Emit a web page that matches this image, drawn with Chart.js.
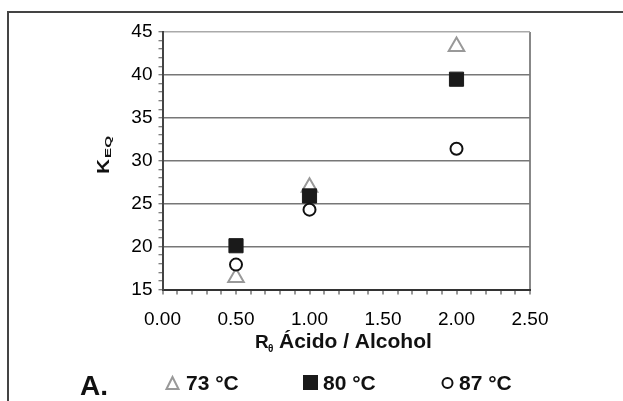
<!DOCTYPE html>
<html>
<head>
<meta charset="utf-8">
<script src="https://cdn.jsdelivr.net/npm/chart.js@4/dist/chart.umd.min.js"></script>
<style>
html, body { margin: 0; padding: 0; background: #fff; overflow: hidden; }
#c { display: block; }
</style>
</head>
<body>
<canvas id="c" width="623" height="401"></canvas>
<script>
// --- datos ---
const ratios = [0.5, 1.0, 2.0];
const keq73 = [16.4, 26.9, 43.3];
const keq80 = [20.1, 25.9, 39.5];
const keq87 = [17.9, 24.3, 31.4];
const seriesNames = ['73 °C', '80 °C', '87 °C'];
const xRange = [0, 2.5];
const yRange = [15, 45];

const FONT = '"Liberation Sans", Arial, sans-serif';
const isMult = (v, m) => Math.abs(v / m - Math.round(v / m)) < 1e-6;
const toPoints = ys => ratios.map((x, i) => ({ x: x, y: ys[i] }));

// --- marco, títulos de ejes, leyenda y "A." ---
const decorPlugin = {
    id: 'decor',
    beforeDraw(chart) {
        const ctx = chart.ctx;
        ctx.save();
        ctx.strokeStyle = '#444';
        ctx.lineWidth = 2;
        ctx.beginPath();
        ctx.moveTo(8, 401);
        ctx.lineTo(8, 12);
        ctx.lineTo(623, 12);
        ctx.stroke();
        ctx.restore();
    },
    afterDraw(chart) {
        const ctx = chart.ctx;
        ctx.save();
        ctx.fillStyle = '#111';
        ctx.textBaseline = 'alphabetic';
        ctx.textAlign = 'left';

        // K_EQ (vertical)
        ctx.save();
        ctx.translate(108.5, 174);
        ctx.rotate(-Math.PI / 2);
        ctx.save();
        ctx.scale(1.3, 1);
        ctx.font = 'bold 16px ' + FONT;
        ctx.fillText('K', 0, 0);
        ctx.restore();
        ctx.save();
        ctx.translate(16, 2);
        ctx.scale(1.7, 1);
        ctx.font = 'bold 9px ' + FONT;
        ctx.fillText('EQ', 0, 0);
        ctx.restore();
        ctx.restore();

        // R_θ  Ácido / Alcohol
        ctx.font = 'bold 19px ' + FONT;
        ctx.fillText('R', 255, 348);
        ctx.font = 'bold 10px ' + FONT;
        ctx.fillText('θ', 268, 352);
        ctx.font = 'bold 21px ' + FONT;
        ctx.fillText('Ácido / Alcohol', 279, 348);

        // A.
        ctx.font = 'bold 28px ' + FONT;
        ctx.fillText('A.', 80, 395);

        // leyenda
        ctx.lineWidth = 2;
        ctx.strokeStyle = '#999';
        ctx.fillStyle = '#fff';
        ctx.beginPath();
        ctx.moveTo(172.5, 377);
        ctx.lineTo(166.5, 389);
        ctx.lineTo(178.5, 389);
        ctx.closePath();
        ctx.fill();
        ctx.stroke();

        ctx.fillStyle = '#1a1a1a';
        ctx.fillRect(303, 375, 15, 15);

        ctx.strokeStyle = '#111';
        ctx.fillStyle = '#fff';
        ctx.beginPath();
        ctx.arc(447.5, 383, 5, 0, Math.PI * 2);
        ctx.fill();
        ctx.stroke();

        ctx.fillStyle = '#111';
        ctx.font = 'bold 21px ' + FONT;
        ctx.fillText(seriesNames[0], 186, 390);
        ctx.fillText(seriesNames[1], 323, 390);
        ctx.fillText(seriesNames[2], 459, 390);
        ctx.restore();
    }
};

new Chart(document.getElementById('c').getContext('2d'), {
    type: 'scatter',
    data: {
        datasets: [
            {
                label: seriesNames[0], data: toPoints(keq73), order: 3,
                pointStyle: 'triangle', radius: 9, borderWidth: 2,
                borderColor: '#999', backgroundColor: '#fff'
            },
            {
                label: seriesNames[1], data: toPoints(keq80), order: 2,
                pointStyle: 'rect', radius: 10, borderWidth: 1,
                borderColor: '#1a1a1a', backgroundColor: '#1a1a1a'
            },
            {
                label: seriesNames[2], data: toPoints(keq87), order: 1,
                pointStyle: 'circle', radius: 6, borderWidth: 2,
                borderColor: '#111', backgroundColor: '#fff'
            }
        ]
    },
    options: {
        responsive: false,
        animation: false,
        events: [],
        devicePixelRatio: 1,
        layout: { padding: { left: 122.5, right: 93, top: 32, bottom: 66.5 } },
        plugins: { legend: { display: false }, tooltip: { enabled: false } },
        scales: {
            x: {
                type: 'linear', min: xRange[0], max: xRange[1],
                afterFit: s => { s.height = 45; },
                border: { display: true, color: '#333', width: 2 },
                grid: {
                    color: c => (c.tick && Math.abs(c.tick.value - xRange[1]) < 1e-6) ? '#888' : 'rgba(0,0,0,0)',
                    lineWidth: 2,
                    tickColor: '#333', tickWidth: 1, tickLength: 5
                },
                ticks: {
                    stepSize: 0.1, autoSkip: false, maxRotation: 0, padding: 14,
                    color: '#000', font: { family: FONT, size: 19 },
                    callback: v => isMult(v, 0.5) ? Number(v).toFixed(2) : ''
                }
            },
            y: {
                type: 'linear', min: yRange[0], max: yRange[1],
                afterFit: s => { s.width = 40; },
                border: { display: true, color: '#444', width: 2 },
                grid: {
                    color: c => {
                        if (!c.tick || !isMult(c.tick.value, 5) || c.tick.value === yRange[0]) return 'rgba(0,0,0,0)';
                        return c.tick.value === yRange[1] ? '#aaa' : '#777';
                    },
                    lineWidth: 1.5,
                    tickColor: '#555', tickWidth: 1, tickLength: 4
                },
                ticks: {
                    stepSize: 1, autoSkip: false, padding: 6,
                    color: '#000', font: { family: FONT, size: 19 },
                    callback: v => isMult(v, 5) ? String(v) : ''
                }
            }
        }
    },
    plugins: [decorPlugin]
});
</script>
</body>
</html>
